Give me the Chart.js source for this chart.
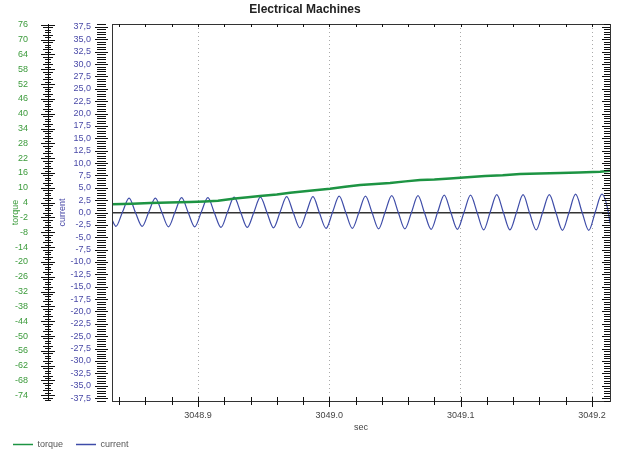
<!DOCTYPE html>
<html>
<head>
    <title>Electrical Machines</title>
    <script src="https://cdn.jsdelivr.net/npm/chart.js"></script>
    <style>
        body { margin: 0; background: #fff; }
    </style>
</head>
<body>
    <canvas id="chart" width="623" height="452"></canvas>

    <script>

        // torque (left outer axis)
        var torqueTime = [3048.8345, 3048.8500, 3048.8634, 3048.8780, 3048.8939, 3048.9050, 3048.9152, 3048.9282,
                          3048.9380, 3048.9472, 3048.9600, 3048.9701, 3048.9850, 3049.0005, 3049.0120, 3049.0234,
                          3049.0350, 3049.0462, 3049.0580, 3049.0691, 3049.0800, 3049.0919, 3049.1050, 3049.1186,
                          3049.1320, 3049.1452, 3049.1600, 3049.1757, 3049.1900, 3049.2062, 3049.2137];
        var torqueValue = [3.3, 3.5, 3.8, 4.0, 4.3, 4.5, 4.8, 5.7,
                           6.2, 6.7, 7.3, 8.0, 8.8, 9.6, 10.4, 11.1,
                           11.5, 11.9, 12.6, 13.2, 13.4, 13.8, 14.3, 14.8,
                           15.1, 15.6, 15.8, 16.0, 16.2, 16.5, 16.9];

        // current (left inner axis), read at troughs / zero crossings / peaks
        var currentTime = [3048.8345,
            3048.8375, 3048.8425, 3048.8475, 3048.8525, 3048.8575, 3048.8625, 3048.8675, 3048.8725,
            3048.8775, 3048.8825, 3048.8875, 3048.8925, 3048.8975, 3048.9025, 3048.9075, 3048.9125,
            3048.9175, 3048.9225, 3048.9275, 3048.9325, 3048.9375, 3048.9425, 3048.9475, 3048.9525,
            3048.9575, 3048.9625, 3048.9675, 3048.9725, 3048.9775, 3048.9825, 3048.9875, 3048.9925,
            3048.9975, 3049.0025, 3049.0075, 3049.0125, 3049.0175, 3049.0225, 3049.0275, 3049.0325,
            3049.0375, 3049.0425, 3049.0475, 3049.0525, 3049.0575, 3049.0625, 3049.0675, 3049.0725,
            3049.0775, 3049.0825, 3049.0875, 3049.0925, 3049.0975, 3049.1025, 3049.1075, 3049.1125,
            3049.1175, 3049.1225, 3049.1275, 3049.1325, 3049.1375, 3049.1425, 3049.1475, 3049.1525,
            3049.1575, 3049.1625, 3049.1675, 3049.1725, 3049.1775, 3049.1825, 3049.1875, 3049.1925,
            3049.1975, 3049.2025, 3049.2075, 3049.2125,
            3049.2137];
        var currentValue = [-1.5,
            -2.8, 0.1, 2.9, -0.1, -2.8, 0.1, 2.9, 0,
            -2.9, 0.1, 3.0, 0, -2.9, 0.1, 3.0, -0.1,
            -3.0, 0.1, 3.1, 0, -3.0, 0, 3.1, 0,
            -3.1, 0.1, 3.2, 0, -3.1, 0, 3.2, -0.1,
            -3.2, 0.1, 3.3, 0, -3.2, 0, 3.3, 0,
            -3.3, 0.1, 3.4, 0, -3.3, 0, 3.4, -0.1,
            -3.4, 0.1, 3.5, 0, -3.4, 0, 3.5, 0,
            -3.5, 0.1, 3.6, 0, -3.5, 0, 3.6, -0.1,
            -3.5, 0.1, 3.6, 0, -3.6, 0, 3.7, 0,
            -3.6, 0.1, 3.7, 0,
            -2.2];

        // tick labels
        var timeTicks = [3048.9, 3049.0, 3049.1, 3049.2];
        var torqueTicks = [76, 70, 64, 58, 52, 46, 40, 34, 28, 22, 16, 10, 4, -2, -8,
                           -14, -20, -26, -32, -38, -44, -50, -56, -62, -68, -74];
        var currentTicks = [37.5, 35, 32.5, 30, 27.5, 25, 22.5, 20, 17.5, 15, 12.5, 10, 7.5, 5, 2.5, 0,
                            -2.5, -5, -7.5, -10, -12.5, -15, -17.5, -20, -22.5, -25, -27.5, -30, -32.5, -35, -37.5];

        var GREEN = '#1d9443';
        var BLUE = 'rgb(62, 76, 168)';
        var FONT = 'Liberation Sans, Arial, sans-serif';

        function pairs(xs, ys) {
            return xs.map((x, i) => ({ x: x, y: ys[i] }));
        }

        // no extra room for the end labels, the plot box is fixed like the original
        function noPad(s) {
            s.paddingTop = 0; s.paddingBottom = 0; s.paddingLeft = 0; s.paddingRight = 0;
        }

        // frame + the dense tick marks the original plot has on every side
        var frameTicks = {
            id: 'frameTicks',
            afterDraw(chart) {
                var ctx = chart.ctx, a = chart.chartArea;
                var sx = chart.scales.x, st = chart.scales.yTorque, sc = chart.scales.yCurrent;
                ctx.save();
                ctx.lineWidth = 1;
                ctx.strokeStyle = '#333';
                ctx.strokeRect(Math.round(a.left) + 0.5, Math.round(a.top) + 0.5,
                    Math.round(a.right - a.left), Math.round(a.bottom - a.top));

                function hline(x1, x2, y) {
                    y = Math.round(y) + 0.5;
                    ctx.beginPath(); ctx.moveTo(x1, y); ctx.lineTo(x2, y); ctx.stroke();
                }
                function vline(x, y1, y2) {
                    x = Math.round(x) + 0.5;
                    ctx.beginPath(); ctx.moveTo(x, y1); ctx.lineTo(x, y2); ctx.stroke();
                }

                // torque axis
                ctx.strokeStyle = '#111';
                var tx = st.right - 7;
                vline(tx, a.top, a.bottom);
                for (var v = -76; v <= 76; v += 1) {
                    var y = st.getPixelForValue(v);
                    if (y < a.top || y > a.bottom) continue;
                    var major = torqueTicks.indexOf(v) >= 0;
                    var w = major ? 7 : (v % 3 === 0 ? 5 : 3);
                    hline(tx - w, tx + w, y);
                }

                // current axis + right border
                for (var i = -76; i <= 76; i++) {
                    var c = i / 2;
                    var yc = sc.getPixelForValue(c);
                    if (yc < a.top || yc > a.bottom) continue;
                    var big = (i % 5 === 0);
                    hline(sc.right - (big ? 17 : 15), sc.right - (big ? 4 : 6), yc);
                    hline(a.right - (big ? 8 : 6), a.right, yc);
                }

                // top and bottom x ticks
                for (var k = 0; k <= 20; k++) {
                    var t = 3048.84 + k * 0.02;
                    var xp = sx.getPixelForValue(t);
                    if (xp < a.left || xp > a.right) continue;
                    var lab = (k - 3) % 5 === 0;
                    vline(xp, a.top, a.top + 3);
                    vline(xp, a.bottom - 4, a.bottom + (lab ? 6 : 4));
                }
                ctx.restore();
            }
        };

        var ctx = document.getElementById('chart').getContext('2d');
        new Chart(ctx, {
            type: 'line',
            data: {
                datasets: [
                    {
                        label: 'torque',
                        data: pairs(torqueTime, torqueValue),
                        borderColor: GREEN,
                        backgroundColor: GREEN,
                        borderWidth: 2.5,
                        pointRadius: 0,
                        yAxisID: 'yTorque'
                    },
                    {
                        label: 'current',
                        data: pairs(currentTime, currentValue),
                        borderColor: BLUE,
                        backgroundColor: BLUE,
                        borderWidth: 1.2,
                        pointRadius: 0,
                        cubicInterpolationMode: 'monotone',
                        yAxisID: 'yCurrent'
                    }
                ]
            },
            options: {
                responsive: false,
                animation: false,
                layout: { padding: { left: 0, right: 13, top: 0, bottom: 0 } },
                plugins: {
                    title: {
                        display: true,
                        text: 'Electrical Machines',
                        color: '#222',
                        font: { family: FONT, size: 12, weight: 'bold' },
                        padding: { top: 2, bottom: 7.6 }
                    },
                    legend: {
                        position: 'bottom',
                        align: 'start',
                        maxHeight: 25,
                        labels: {
                            usePointStyle: true,
                            pointStyle: 'line',
                            pointStyleWidth: 20,
                            color: '#555',
                            font: { family: FONT, size: 9 },
                            padding: 13,
                            generateLabels: chart => Chart.defaults.plugins.legend.labels.generateLabels(chart)
                                .map(l => Object.assign(l, { lineWidth: 1.5 }))
                        }
                    },
                    tooltip: { enabled: false }
                },
                scales: {
                    x: {
                        type: 'linear',
                        min: 3048.8345,
                        max: 3049.2137,
                        afterBuildTicks: s => { s.ticks = timeTicks.map(v => ({ value: v })); },
                        afterFit: s => { s.height = 26; noPad(s); },
                        ticks: {
                            callback: v => v.toFixed(1),
                            color: '#444',
                            font: { family: FONT, size: 9 },
                            padding: 9,
                            maxRotation: 0,
                            autoSkip: false
                        },
                        grid: { color: '#aaa', drawTicks: false },
                        border: { display: false, dash: [1, 3] },
                        title: {
                            display: true, text: 'sec', color: '#444',
                            font: { family: FONT, size: 9 }, padding: { top: 0, bottom: -6.4 }
                        }
                    },
                    yTorque: {
                        type: 'linear',
                        position: 'left',
                        weight: 1,
                        min: -76.3,
                        max: 76.3,
                        afterBuildTicks: s => { s.ticks = torqueTicks.map(v => ({ value: v })); },
                        afterFit: s => { s.width = 55; noPad(s); },
                        ticks: {
                            color: '#3a9a3a',
                            font: { family: FONT, size: 9 },
                            padding: 27,
                            autoSkip: false
                        },
                        grid: { display: false, drawTicks: false },
                        border: { display: false },
                        title: {
                            display: true, text: 'torque', color: '#3a9a3a',
                            font: { family: FONT, size: 9 }, padding: { top: 10, bottom: 0 }
                        }
                    },
                    yCurrent: {
                        type: 'linear',
                        position: 'left',
                        weight: 0,
                        min: -38.1,
                        max: 38.1,
                        afterBuildTicks: s => { s.ticks = currentTicks.map(v => ({ value: v })); },
                        afterFit: s => { s.width = 57; noPad(s); },
                        ticks: {
                            callback: v => v.toFixed(1).replace('.', ','),
                            color: '#4a4aa8',
                            font: { family: FONT, size: 9 },
                            padding: 21,
                            autoSkip: false
                        },
                        grid: {
                            drawTicks: false,
                            color: c => (c.tick && c.tick.value === 0) ? '#333' : 'rgba(0,0,0,0)',
                            lineWidth: 1.5
                        },
                        border: { display: false },
                        title: {
                            display: true, text: 'current', color: '#4a4aa8',
                            font: { family: FONT, size: 9 }, padding: { top: 2, bottom: 0 }
                        }
                    }
                }
            },
            plugins: [frameTicks]
        });

    </script>
</body>
</html>
